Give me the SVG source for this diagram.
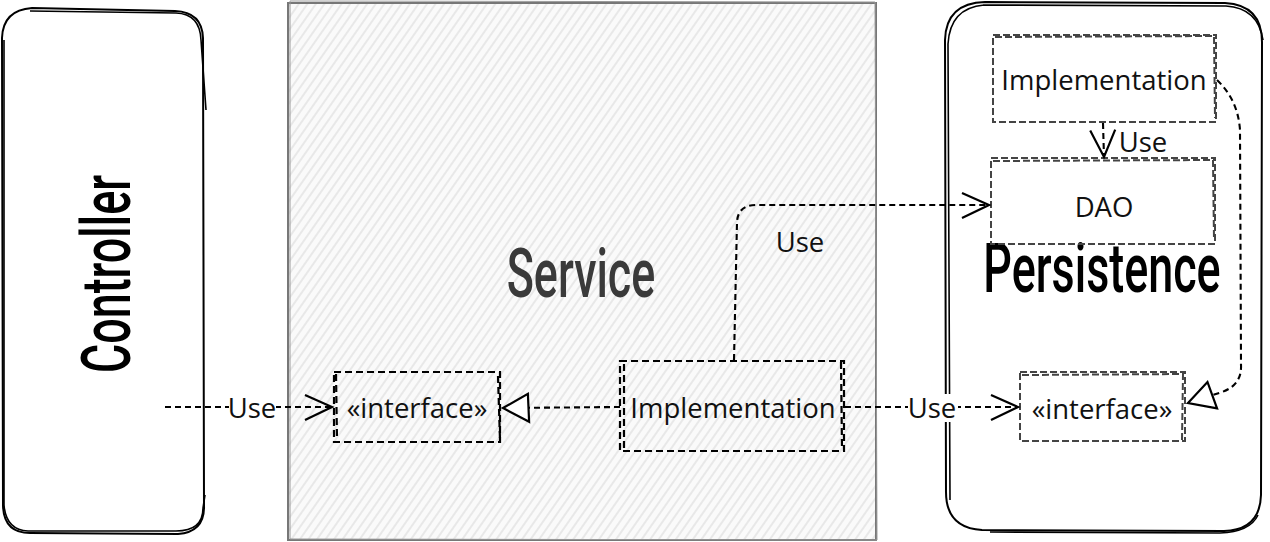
<svg xmlns="http://www.w3.org/2000/svg" width="1270" height="542" viewBox="0 0 1270 542">
<defs>
<pattern id="hatch" patternUnits="userSpaceOnUse" width="7" height="7" patternTransform="rotate(35)">
<rect width="7" height="7" fill="#fafafa"/>
<line x1="2" y1="0" x2="2" y2="7" stroke="#dcdcdc" stroke-width="1.2"/>
</pattern>
<marker id="open" markerUnits="userSpaceOnUse" markerWidth="32" markerHeight="30" refX="28" refY="12" orient="auto" overflow="visible">
<path d="M1,0 L28,12 L1,25" fill="none" stroke="#000" stroke-width="2.2"/>
</marker>
<marker id="tri" markerUnits="userSpaceOnUse" markerWidth="32" markerHeight="32" refX="26" refY="14" orient="auto" overflow="visible">
<path d="M0,0 L26,14 L1,28 Z" fill="#fff" stroke="#000" stroke-width="2.2"/>
</marker>
</defs>
<style>
.big{font-family:Roboto,"Liberation Sans",sans-serif;font-size:68px;font-weight:500;}
.lbl{font-family:"Open Sans","Noto Sans",sans-serif;font-size:27.5px;fill:#111;}
.dashB{fill:none;stroke:#000;stroke-width:2.2;stroke-dasharray:7 4;}
.dashG{fill:none;stroke:#444;stroke-width:2;stroke-dasharray:7 3;}
.conn{fill:none;stroke:#000;stroke-width:2.1;stroke-dasharray:6 4;}
.sk{fill:none;stroke:#000;stroke-width:1.6;}
</style>

<g id="controller">
<path d="M32,8 L175,11 Q202,12 203,38 L204,505 Q205,532 178,534 L30,533 Q4,533 3,506 L2,38 Q3,10 32,8 Z" fill="#fff" stroke="#000" stroke-width="2"/>
<path d="M30,11 L176,13 Q200,14 201,40 L206,110 M205,495 L203,508 Q203,531 176,531 L28,531 Q6,530 4,505 L4,40" class="sk"/>
<text class="big" transform="translate(130,274) rotate(-90) scale(0.66,1)" text-anchor="middle">Controller</text>
</g>

<g id="service">
<rect x="288" y="3" width="588" height="537" fill="url(#hatch)" stroke="#777" stroke-width="2"/>
<path d="M290,1 L875,2 L877,540 L290,539 Z" fill="none" stroke="#999" stroke-width="1"/>
<text class="big" transform="translate(581,297) scale(0.66,1)" text-anchor="middle" fill="#3a3a3a">Service</text>
</g>

<g id="persistence">
<path d="M985,2 L1225,3 Q1262,5 1262,42 L1261,495 Q1260,530 1224,531 L982,530 Q946,528 946,492 L945,40 Q946,3 985,2 Z" fill="#fff" stroke="#000" stroke-width="2"/>
<path d="M983,5 L1226,6 Q1258,8 1263,40 M1258,515 Q1250,532 1220,533 L990,532 M950,500 L948,44 Q950,8 984,5" class="sk"/>
<text class="big" transform="translate(1102,292) scale(0.66,1)" text-anchor="middle" fill="#000">Persistence</text>
</g>

<g id="service-interface">
<rect x="334" y="372" width="166" height="70" class="dashB"/>
<path d="M498,376 L500,440 M336,374 L337,440" class="dashB" stroke-width="1.4"/>
<text class="lbl" x="417" y="418" text-anchor="middle">«interface»</text>
</g>

<g id="service-implementation">
<rect x="620" y="361" width="224" height="90" class="dashB"/>
<path d="M624,364 L624,450 M841,362 L842,449" class="dashB" stroke-width="1.4"/>
<text class="lbl" x="733" y="418" text-anchor="middle">Implementation</text>
</g>

<g id="persistence-implementation">
<rect x="993" y="35" width="223" height="87" class="dashG"/>
<path d="M995,37 L1214,36 L1215,118" class="dashG" stroke-width="1.2"/>
<text class="lbl" x="1104" y="90" text-anchor="middle">Implementation</text>
</g>

<g id="dao">
<rect x="991" y="158" width="224" height="86" class="dashG"/>
<path d="M993,161 L1213,160 L1214,240" class="dashG" stroke-width="1.2"/>
<text class="lbl" x="1104" y="217" text-anchor="middle">DAO</text>
</g>

<g id="persistence-interface">
<rect x="1020" y="372" width="165" height="69" class="dashG"/>
<path d="M1022,375 L1183,374 L1182,440" class="dashG" stroke-width="1.2"/>
<text class="lbl" x="1102" y="419" text-anchor="middle">«interface»</text>
</g>

<g id="connectors">
<path d="M165,407 L332,407" class="conn" marker-end="url(#open)"/>
<rect x="229" y="396" width="47" height="24" fill="#fff"/>
<text class="lbl" x="252" y="418" text-anchor="middle">Use</text>

<path d="M620,407 L503,408" class="conn" marker-end="url(#tri)"/>

<path d="M845,407 L1018,407" class="conn" marker-end="url(#open)"/>
<rect x="908" y="394" width="50" height="28" fill="#fff"/>
<text class="lbl" x="932" y="418" text-anchor="middle">Use</text>

<path d="M734,360 L737,222 Q738,205 756,205 L989,205" class="conn" marker-end="url(#open)"/>
<text class="lbl" x="800" y="252" text-anchor="middle">Use</text>

<path d="M1103,123 L1104,157" class="conn" marker-end="url(#open)"/>
<text class="lbl" x="1143" y="152" text-anchor="middle">Use</text>

<path d="M1217,80 Q1238,100 1240,130 L1241,365 Q1242,385 1222,392 L1188,403" class="conn" marker-end="url(#tri)"/>
</g>
</svg>
